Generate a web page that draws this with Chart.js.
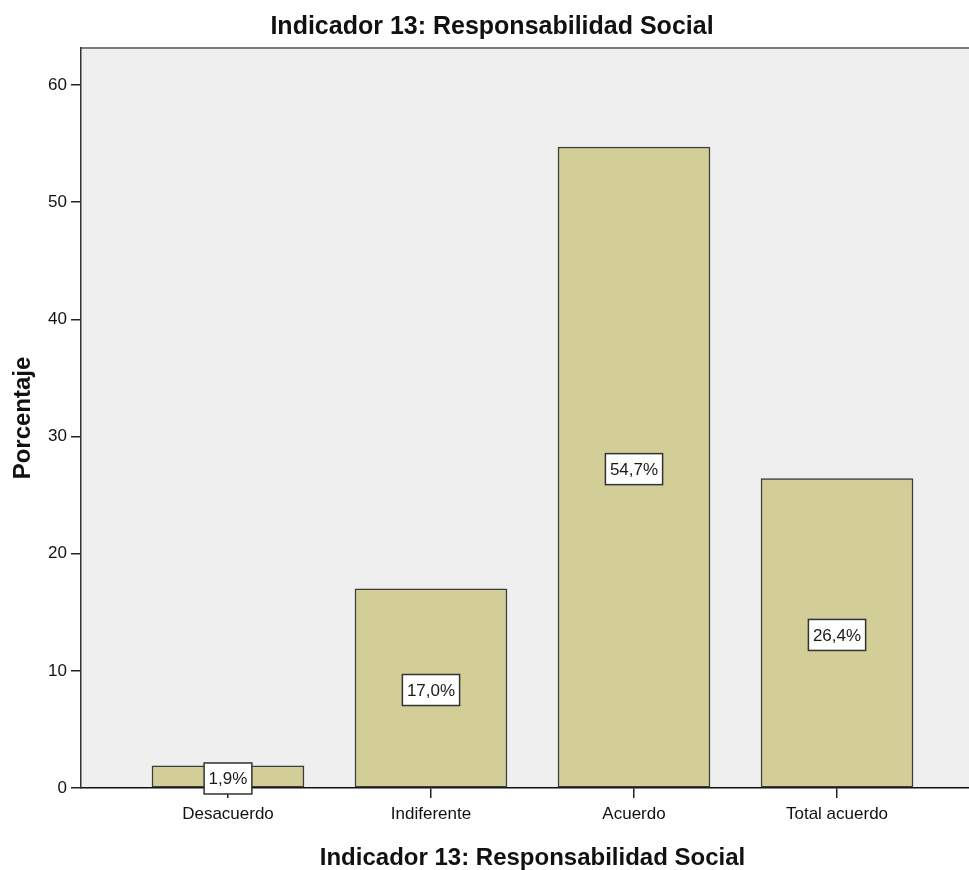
<!DOCTYPE html>
<html>
<head>
<meta charset="utf-8">
<script src="https://cdn.jsdelivr.net/npm/chart.js@4/dist/chart.umd.min.js"></script>
<style>
  html, body { margin: 0; padding: 0; background: #fff; overflow: hidden; }
  #wrap { width: 969px; height: 870px; overflow: hidden; }
</style>
</head>
<body>
<div id="wrap"><canvas id="myChart" width="984" height="870"></canvas></div>
<script>
var categories = ['Desacuerdo', 'Indiferente', 'Acuerdo', 'Total acuerdo'];
var percentages = [1.9, 17.0, 54.7, 26.4];
var yTicks = [0, 10, 20, 30, 40, 50, 60];

var FONT = "'Liberation Sans', Arial, sans-serif";

// grey plot background with a top border, like the SPSS frame
var plotFrame = {
	id: 'plotFrame',
	beforeDraw: function (chart) {
		var a = chart.chartArea, ctx = chart.ctx;
		ctx.save();
		ctx.fillStyle = '#efefef';
		ctx.fillRect(a.left, a.top, a.right - a.left, a.bottom - a.top);
		ctx.strokeStyle = '#7a7a7a';
		ctx.lineWidth = 2;
		ctx.beginPath();
		ctx.moveTo(a.left, a.top);
		ctx.lineTo(a.right, a.top);
		ctx.stroke();
		ctx.restore();
	}
};

// boxed value labels in the middle of each bar
var boxLabels = {
	id: 'boxLabels',
	afterDatasetsDraw: function (chart) {
		var ctx = chart.ctx;
		var meta = chart.getDatasetMeta(0);
		ctx.save();
		ctx.font = '17px ' + FONT;
		ctx.textAlign = 'center';
		ctx.textBaseline = 'middle';
		meta.data.forEach(function (bar, i) {
			var txt = percentages[i].toFixed(1).replace('.', ',') + '%';
			var w = ctx.measureText(txt).width + 9;
			var h = 31;
			var cx = bar.x;
			var cy = (bar.y + bar.base) / 2 + 2;
			ctx.fillStyle = '#ffffff';
			ctx.fillRect(cx - w / 2, cy - h / 2, w, h);
			ctx.strokeStyle = '#333333';
			ctx.lineWidth = 1.5;
			ctx.strokeRect(cx - w / 2, cy - h / 2, w, h);
			ctx.fillStyle = '#1a1a1a';
			ctx.fillText(txt, cx, cy + 1);
		});
		ctx.restore();
	}
};

var chart = new Chart('myChart', {
	type: 'bar',
	data: {
		datasets: [{
			data: percentages.map(function (v, i) { return { x: i, y: v }; }),
			backgroundColor: '#d3ce97',
			borderColor: '#3c3c3c',
			borderWidth: 1.5,
			borderSkipped: false,
			barThickness: 152
		}]
	},
	options: {
		responsive: false,
		animation: false,
		layout: { padding: 0 },
		plugins: {
			legend: { display: false },
			tooltip: { enabled: false },
			title: {
				display: true,
				text: 'Indicador 13: Responsabilidad Social',
				color: '#111',
				font: { family: FONT, size: 25, weight: 'bold' },
				padding: { top: 12, bottom: 6 }
			}
		},
		scales: {
			x: {
				type: 'linear',
				min: -0.724,
				max: 3.724,
				offset: false,
				afterBuildTicks: function (scale) {
					scale.ticks = categories.map(function (c, i) { return { value: i }; });
				},
				afterFit: function (scale) { scale.height = 82; },
				ticks: {
					autoSkip: false,
					maxRotation: 0,
					padding: 6,
					color: '#111',
					font: { family: FONT, size: 17 },
					callback: function (v) { return categories[v]; }
				},
				grid: { drawOnChartArea: false, drawTicks: true, tickLength: 10, color: '#222', lineWidth: 1.5, offset: false },
				border: { display: true, color: '#111', width: 1.5 },
				title: {
					display: true,
					text: 'Indicador 13: Responsabilidad Social',
					color: '#111',
					font: { family: FONT, size: 24, weight: 'bold' },
					padding: { top: 4, bottom: -3 }
				}
			},
			y: {
				min: 0,
				max: 63.15,
				afterBuildTicks: function (scale) {
					scale.ticks = yTicks.map(function (v) { return { value: v }; });
				},
				afterFit: function (scale) { scale.width = 81; },
				ticks: {
					padding: 4,
					color: '#111',
					font: { family: FONT, size: 17 }
				},
				grid: { drawOnChartArea: false, drawTicks: true, tickLength: 10, color: '#222', lineWidth: 1.5 },
				border: { display: true, color: '#333', width: 1.5 },
				title: {
					display: true,
					text: 'Porcentaje',
					color: '#111',
					font: { family: FONT, size: 24, weight: 'bold' },
					padding: { top: 9, bottom: 0 }
				}
			}
		}
	},
	plugins: [plotFrame, boxLabels]
});
</script>
</body>
</html>
